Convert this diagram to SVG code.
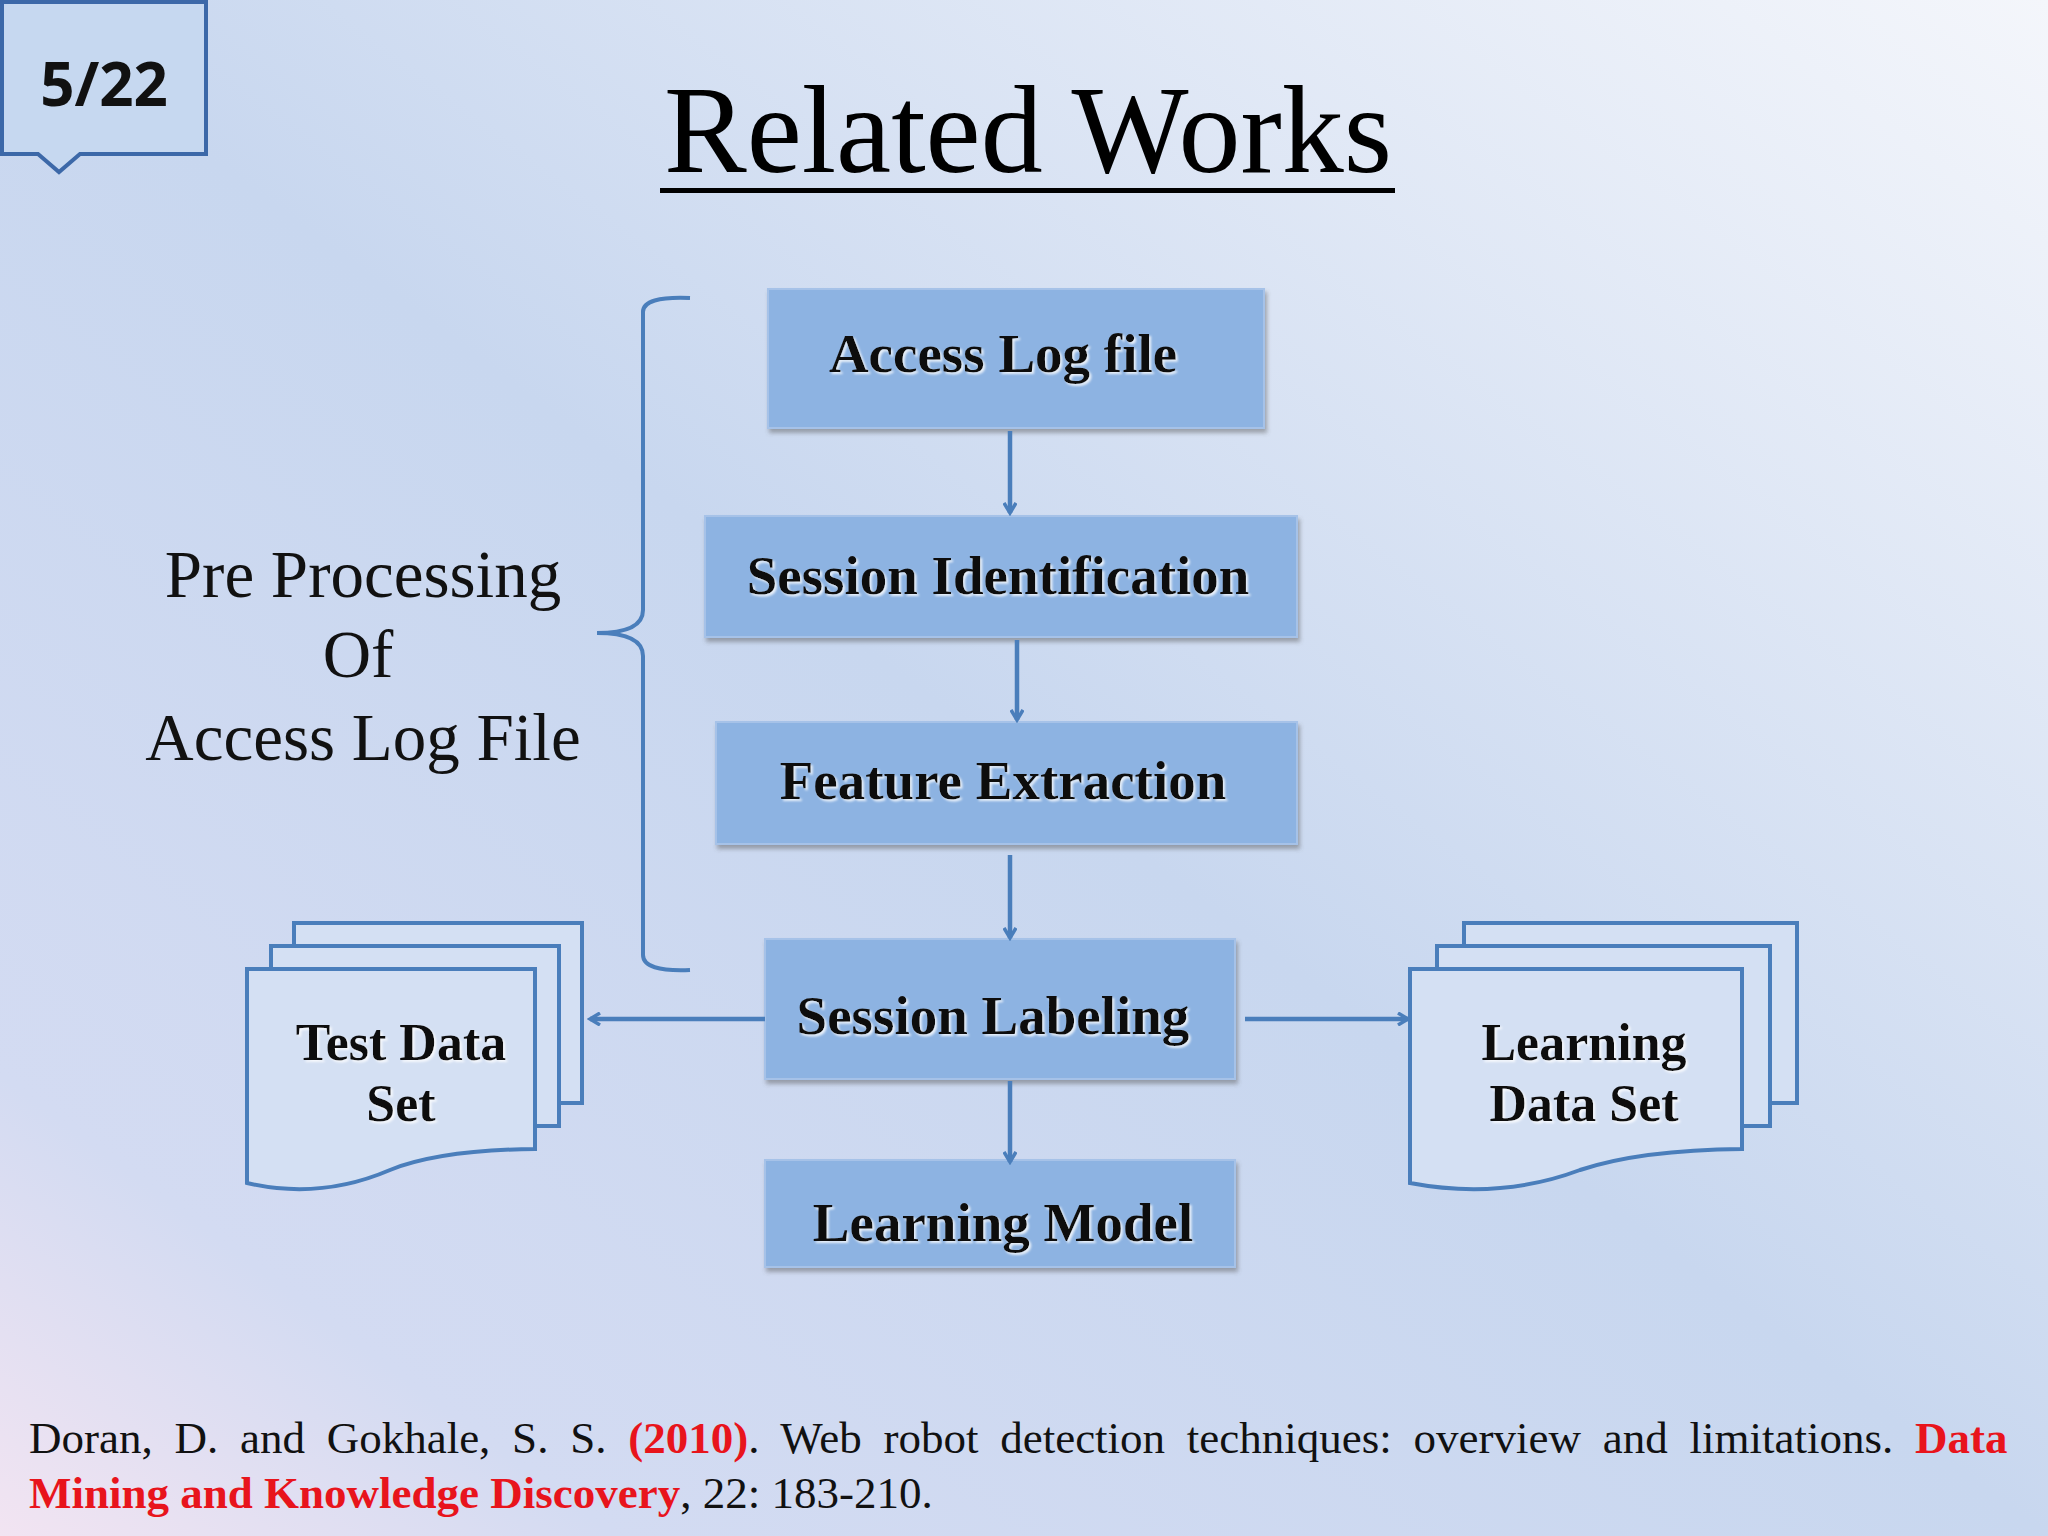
<svg xmlns="http://www.w3.org/2000/svg" width="2048" height="1536" viewBox="0 0 2048 1536">
<defs>
<linearGradient id="bg" x1="1" y1="0" x2="0" y2="1">
<stop offset="0" stop-color="#f4f6fb"/>
<stop offset="0.5" stop-color="#c8d7ef"/>
<stop offset="0.85" stop-color="#d3dbf2"/>
<stop offset="1" stop-color="#f2e4f2"/>
</linearGradient>
<filter id="sh" x="-5%" y="-5%" width="110%" height="120%"><feDropShadow dx="2" dy="4" stdDeviation="2" flood-color="#555" flood-opacity="0.45"/></filter>
<filter id="ts"><feDropShadow dx="2" dy="2" stdDeviation="1" flood-color="#fff" flood-opacity="0.8"/></filter>
<marker id="ah" markerWidth="14" markerHeight="14" refX="11" refY="7" orient="auto" markerUnits="userSpaceOnUse"><path d="M1,1 L11,7 L1,13" fill="none" stroke="#4a7ebb" stroke-width="3.5"/></marker>
</defs>
<style>
.box{fill:#8db3e2;stroke:#a6c2e8;stroke-width:2;filter:url(#sh)}
.bt{font-family:"Liberation Serif",serif;font-weight:bold;font-size:55px;text-anchor:middle;fill:#111;filter:url(#ts)}
.dt{font-size:52px}
.doc{fill:#d4e0f3;stroke:#4a7ebb;stroke-width:4}
.lt{font-family:"Liberation Serif",serif;font-size:67px;text-anchor:middle;fill:#111}
.ref{font-family:"Liberation Serif",serif;font-size:45px;fill:#111}
.red{fill:#e8141c;font-weight:bold}
.con{stroke:#4a7ebb;stroke-width:4.5;fill:none;marker-end:url(#ah)}
</style>
<rect width="2048" height="1536" fill="url(#bg)"/>
<g id="tag">
<path d="M2,2 H206 V154 H80 L59,172 L38,154 H2 Z" fill="#c6d8f0" stroke="#3c68a8" stroke-width="4"/>
<text x="104" y="106" font-family="Open Sans,sans-serif" font-weight="bold" font-size="60" text-anchor="middle" fill="#111">5/22</text>
</g>
<g id="title">
<text x="1028" y="172" font-family="Liberation Serif,serif" font-size="124" text-anchor="middle" fill="#000">Related Works</text>
<rect x="660" y="188" width="735" height="5" fill="#000"/>
</g>
<g id="n1"><rect class="box" x="768" y="289" width="496" height="139"/><text class="bt" x="1003" y="372">Access Log file</text></g>
<g id="n2"><rect class="box" x="705" y="516" width="592" height="121"/><text class="bt" x="998" y="594">Session Identification</text></g>
<g id="n3"><rect class="box" x="716" y="722" width="581" height="122"/><text class="bt" x="1003" y="799">Feature Extraction</text></g>
<g id="n4"><rect class="box" x="765" y="939" width="470" height="140"/><text class="bt" x="993" y="1034">Session Labeling</text></g>
<g id="n5"><rect class="box" x="765" y="1160" width="470" height="107"/><text class="bt" x="1003" y="1241">Learning Model</text></g>
<g id="bracket"><path d="M690,298 Q643,296 643,312 V610 Q643,633 597,633 Q643,633 643,656 V955 Q643,972 690,970" fill="none" stroke="#4a7ebb" stroke-width="4"/></g>
<g id="pre">
<text class="lt" x="363" y="597">Pre Processing</text>
<text class="lt" x="358" y="677">Of</text>
<text class="lt" x="363" y="760">Access Log File</text>
</g>
<g id="testdoc">
<rect class="doc" x="294" y="923" width="288" height="180"/>
<rect class="doc" x="271" y="946" width="288" height="180"/>
<path class="doc" d="M247,969 H535 V1149 Q440,1150 390,1170 Q320,1200 247,1183 Z"/>
<text class="bt dt" x="401" y="1060">Test Data</text>
<text class="bt dt" x="401" y="1121">Set</text>
</g>
<g id="learndoc">
<rect class="doc" x="1464" y="923" width="333" height="180"/>
<rect class="doc" x="1437" y="946" width="333" height="180"/>
<path class="doc" d="M1410,969 H1742 V1149 Q1640,1150 1580,1170 Q1500,1200 1410,1183 Z"/>
<text class="bt dt" x="1584" y="1060">Learning</text>
<text class="bt dt" x="1584" y="1121">Data Set</text>
</g>
<g id="connectors">
<line class="con" x1="1010" y1="431" x2="1010" y2="513"/>
<line class="con" x1="1017" y1="640" x2="1017" y2="720"/>
<line class="con" x1="1010" y1="855" x2="1010" y2="938"/>
<line class="con" x1="1010" y1="1081" x2="1010" y2="1162"/>
<line class="con" x1="765" y1="1019" x2="590" y2="1019"/>
<line class="con" x1="1245" y1="1019" x2="1408" y2="1019"/>
</g>
<g id="reference">
<text class="ref" x="29" y="1453" word-spacing="10.5">Doran, D. and Gokhale, S. S. <tspan class="red">(2010)</tspan>. Web robot detection techniques: overview and limitations. <tspan class="red">Data</tspan></text>
<text class="ref" x="29" y="1508"><tspan class="red">Mining and Knowledge Discovery</tspan>, 22: 183-210.</text>
</g>
</svg>
